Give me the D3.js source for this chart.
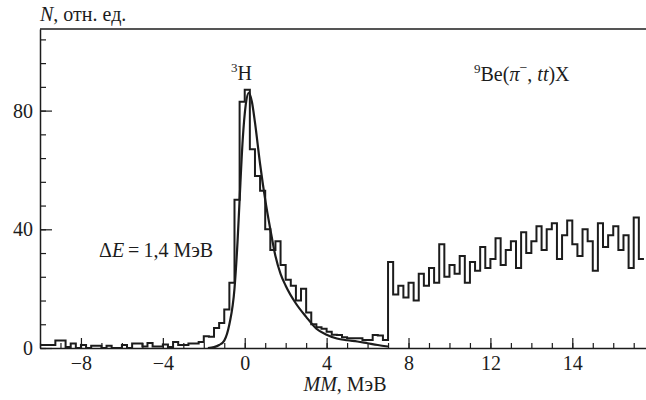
<!DOCTYPE html>
<html>
<head>
<meta charset="utf-8">
<script src="https://cdn.jsdelivr.net/npm/d3@7"></script>
<style>
  html, body { margin: 0; padding: 0; background: #fff; }
  svg { display: block; }
  svg text { font-family: "Times New Roman", "Liberation Serif", Tinos, "Noto Serif", "DejaVu Serif", Georgia, Times, serif !important; fill: #1c1c1c; }
</style>
</head>
<body>
<svg id="chart" width="646" height="400"></svg>
<script>
// Histogram of missing mass, bins 0.25 MeV wide, starting at binStart
const binStart = -10;
const binWidth = 0.25;
const counts = [
  // -10 .. -8
  1, 1, 1, 2.5, 2.5, 0.3, 1.5, 0,
  // -8 .. -6
  1, 0, 0.8, 0.8, 0, 0.8, 0, 0,
  // -6 .. -4
  1, 0, 1.5, 1.5, 0.5, 1.7, 0.5, 0.5,
  // -4 .. -2
  1.2, 0.3, 2, 1, 1, 1.5, 1.5, 2,
  // -2 .. 0
  4, 3.8, 6.7, 8.4, 13, 22, 50, 83,
  // 0 .. 2
  87, 67, 58, 53, 40, 33, 36, 28,
  // 2 .. 4
  23, 21, 16, 20, 12, 8, 7, 6.5,
  // 4 .. 6
  5.5, 4.5, 4.4, 3.6, 3.3, 3.3, 3.3, 2.7,
  // 6 .. 8
  2.7, 4.4, 4.2, 2.7, 29, 18, 21, 17,
  // 8 .. 10
  22, 16, 25, 21, 27, 22, 35, 24,
  // 10 .. 12
  28, 25, 31, 22, 29, 26, 34, 27,
  // 12 .. 14
  30, 37, 28, 33, 36, 27, 39, 32,
  // 14 .. 16
  36, 41, 33, 40, 42, 30, 38, 43,
  // 16 .. 18
  35, 31, 40, 36, 26, 42, 34, 38,
  // 18 .. 19.5
  41, 33, 38, 27, 44, 30
];

// Fitted line shape of the 3H peak (MeV, counts)
const fitX = [-1.8, -1.5, -1.25, -1.0, -0.75, -0.5, -0.35, -0.25, -0.1, 0.05, 0.2, 0.35, 0.5, 0.75, 1.0, 1.25, 1.5, 1.75, 2.0, 2.5, 3.0, 3.5, 4.0, 4.5, 5.0, 5.5, 6.0, 6.5, 7.0];
const fitY = [0, 0.3, 1, 2.5, 8, 20, 36, 50, 70, 82, 86, 83, 76, 62, 50, 40, 31, 25, 21, 15, 10.5, 6.5, 4.5, 3.2, 2.6, 2.2, 1.6, 1.0, 0.5];

// Axis ticks
const xMajorTicks = [-8, -4, 0, 4, 8, 12, 16];
const xTickLabels = ["\u22128", "\u22124", "0", "4", "8", "12", "14"];
const xMinorTicks = d3.range(-10, 20, 1);
const yMajorTicks = [0, 40, 80];
const yTickLabels = ["0", "40", "80"];
const yMinorTicks = d3.range(0, 105, 8);

const svg = d3.select("#chart");
const plotLeft = 40, plotRight = 646, plotTop = 29, plotBottom = 348;

const x = d3.scaleLinear().domain([-10, 19.6]).range([plotLeft, plotRight]);
const y = d3.scaleLinear().domain([0, 107.5]).range([plotBottom, plotTop]);

const ink = "#1c1c1c";

// frame top line
svg.append("line")
  .attr("x1", plotLeft).attr("x2", plotRight).attr("y1", plotTop).attr("y2", plotTop)
  .attr("stroke", ink).attr("stroke-width", 1.4);

// minor ticks
svg.append("g").attr("transform", `translate(0,${plotBottom})`)
  .call(d3.axisBottom(x).tickValues(xMinorTicks).tickSize(-5).tickSizeOuter(0).tickFormat(""))
  .call(g => g.select(".domain").remove())
  .call(g => g.selectAll("line").attr("stroke", ink).attr("stroke-width", 1.2));
svg.append("g").attr("transform", `translate(${plotLeft},0)`)
  .call(d3.axisLeft(y).tickValues(yMinorTicks).tickSize(-6).tickSizeOuter(0).tickFormat(""))
  .call(g => g.select(".domain").remove())
  .call(g => g.selectAll("line").attr("stroke", ink).attr("stroke-width", 1.2));

// major ticks with labels
const xAxis = svg.append("g").attr("transform", `translate(0,${plotBottom})`)
  .call(d3.axisBottom(x).tickValues(xMajorTicks).tickSize(-10).tickSizeOuter(0).tickPadding(8)
    .tickFormat((d, i) => xTickLabels[i]));
xAxis.attr("font-family", null);
xAxis.select(".domain").attr("stroke", ink).attr("stroke-width", 1.5);
xAxis.selectAll("line").attr("stroke", ink).attr("stroke-width", 1.2);
xAxis.selectAll("text").attr("font-size", 20).attr("fill", ink);

const yAxis = svg.append("g").attr("transform", `translate(${plotLeft},0)`)
  .call(d3.axisLeft(y).tickValues(yMajorTicks).tickSize(-12).tickSizeOuter(0).tickPadding(7)
    .tickFormat((d, i) => yTickLabels[i]));
yAxis.attr("font-family", null);
yAxis.select(".domain").attr("stroke", ink).attr("stroke-width", 1.5);
yAxis.selectAll("line").attr("stroke", ink).attr("stroke-width", 1.2);
yAxis.selectAll("text").attr("font-size", 20).attr("fill", ink);

// histogram as a step outline
const stepPts = counts.map((c, i) => [binStart + i * binWidth, c]);
stepPts.push([binStart + counts.length * binWidth, counts[counts.length - 1]]);
const stepLine = d3.line().x(d => x(d[0])).y(d => y(d[1])).curve(d3.curveStepAfter);
svg.append("path")
  .attr("d", stepLine(stepPts))
  .attr("fill", "none").attr("stroke", ink).attr("stroke-width", 2)
  .attr("stroke-linejoin", "miter");

// fitted peak
const fitLine = d3.line().x((d, i) => x(fitX[i])).y((d, i) => y(fitY[i])).curve(d3.curveMonotoneX);
svg.append("path")
  .attr("d", fitLine(fitY))
  .attr("fill", "none").attr("stroke", ink).attr("stroke-width", 2.2);

// texts
const yTitle = svg.append("text").attr("x", 40).attr("y", 21).attr("font-size", 20);
yTitle.append("tspan").attr("font-style", "italic").text("N");
yTitle.append("tspan").text(", отн. ед.");

const xTitle = svg.append("text").attr("x", 345).attr("y", 391).attr("font-size", 20).attr("text-anchor", "middle");
xTitle.append("tspan").attr("font-style", "italic").text("MM");
xTitle.append("tspan").text(", МэВ");

const peakLabel = svg.append("text").attr("x", 231).attr("y", 80).attr("font-size", 20);
peakLabel.append("tspan").attr("font-size", 13).attr("dy", -8).text("3");
peakLabel.append("tspan").attr("dy", 8).text("H");

const reaction = svg.append("text").attr("x", 474).attr("y", 81).attr("font-size", 20);
reaction.append("tspan").attr("font-size", 13).attr("dy", -8).text("9");
reaction.append("tspan").attr("dy", 8).text("Be(");
reaction.append("tspan").attr("font-style", "italic").text("π");
reaction.append("tspan").attr("font-size", 14).attr("dy", -9).text("\u2212");
reaction.append("tspan").attr("dy", 9).text(", ");
reaction.append("tspan").attr("font-style", "italic").text("tt");
reaction.append("tspan").text(")X");

const resolution = svg.append("text").attr("x", 99).attr("y", 257).attr("font-size", 20);
resolution.append("tspan").text("Δ");
resolution.append("tspan").attr("font-style", "italic").text("E");
resolution.append("tspan").text("\u2009=\u20091,4 МэВ");
</script>
</body>
</html>
